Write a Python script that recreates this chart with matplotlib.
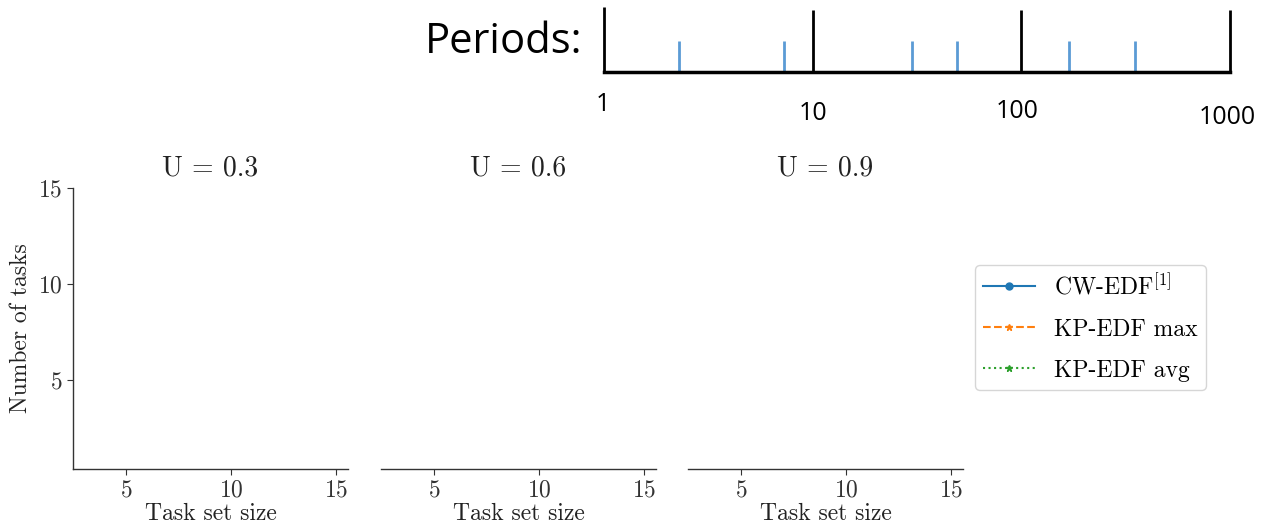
import matplotlib
matplotlib.use('Agg')
import matplotlib.pyplot as plt

# data
utilizations = [0.3, 0.6, 0.9]
task_set_sizes = []          # nothing plotted in the reference
cw_edf = []
kp_edf_max = []
kp_edf_avg = []

period_decades = [1, 10, 100, 1000]
period_samples = [2.3, 7.3, 30, 49, 170, 350]

plt.rcParams['font.family'] = 'serif'
plt.rcParams['font.serif'] = ['cmr10']
plt.rcParams['mathtext.fontset'] = 'cm'
plt.rcParams['axes.formatter.use_mathtext'] = True
plt.rcParams['axes.unicode_minus'] = False

fig = plt.figure(figsize=(12.68, 5.26), dpi=100)
W, H = 1268.0, 526.0


def box(x0, y0, x1, y1):
    return [x0 / W, 1 - y1 / H, (x1 - x0) / W, (y1 - y0) / H]


# subplots
lefts = [73, 381, 688]
axes = []
for i, u in enumerate(utilizations):
    ax = fig.add_axes(box(lefts[i], 188, lefts[i] + 275, 469))
    axes.append(ax)
    l1, = ax.plot(task_set_sizes, cw_edf, color='#1f77b4', linestyle='-', marker='o', markersize=5)
    l2, = ax.plot(task_set_sizes, kp_edf_max, color='#ff7f0e', linestyle='--', marker='*', markersize=5)
    l3, = ax.plot(task_set_sizes, kp_edf_avg, color='#2ca02c', linestyle=':', marker='*', markersize=5)
    ax.set_xlim(2.48, 15.57)
    ax.set_ylim(0.36, 15)
    ax.set_xticks([5, 10, 15])
    ax.set_yticks([5, 10, 15])
    ax.set_title('U = %s' % u, fontsize=20, pad=9, color='#222222')
    ax.set_xlabel('Task set size', fontsize=17, labelpad=1, color='#222222')
    ax.spines['top'].set_visible(False)
    ax.spines['right'].set_visible(False)
    for s in ax.spines.values():
        s.set_color('#333333')
        s.set_linewidth(1.0)
    ax.tick_params(labelsize=17, colors='#333333', length=4, width=0.8)
    if i == 0:
        ax.set_ylabel('Number of tasks', fontsize=17, color='#222222')
    else:
        ax.spines['left'].set_visible(False)
        ax.tick_params(axis='y', left=False, labelleft=False)

fig.legend([l1, l2, l3], [r'CW-EDF$^{[1]}$', 'KP-EDF max', 'KP-EDF avg'],
           loc='upper left', bbox_to_anchor=(975 / W, 1 - 265 / H), borderaxespad=0,
           fontsize=17, frameon=True, handlelength=2.2, borderpad=0.35,
           labelspacing=0.8, edgecolor='#cccccc')

# periods strip
pax = fig.add_axes(box(604, 10, 1230, 72))
pax.set_xscale('log')
pax.set_xlim(1, 1000)
pax.set_ylim(0, 1)
pax.vlines(period_decades, 0, [1.05, 1, 1, 1], color='black', linewidth=2, clip_on=False)
pax.vlines(period_samples, 0, 0.5, color='#5b9bd5', linewidth=2)
for s in ['top', 'right', 'left']:
    pax.spines[s].set_visible(False)
pax.spines['bottom'].set_linewidth(2.5)
pax.set_xticks([])
pax.set_yticks([])
pax.minorticks_off()
label_dy = [0.0, 0.15, 0.12, 0.22]
label_dx = [0.993, 1.0, 0.95, 0.97]
for v, dy, dx in zip(period_decades, label_dy, label_dx):
    pax.text(v * dx, -0.52 - dy, str(v), ha='center', va='center', fontsize=18,
             family='Open Sans', transform=pax.get_xaxis_transform())
fig.text(582 / W, 1 - 42 / H, 'Periods:', ha='right', va='center', fontsize=30, family='Open Sans')

fig.savefig('out.png', dpi=100)
